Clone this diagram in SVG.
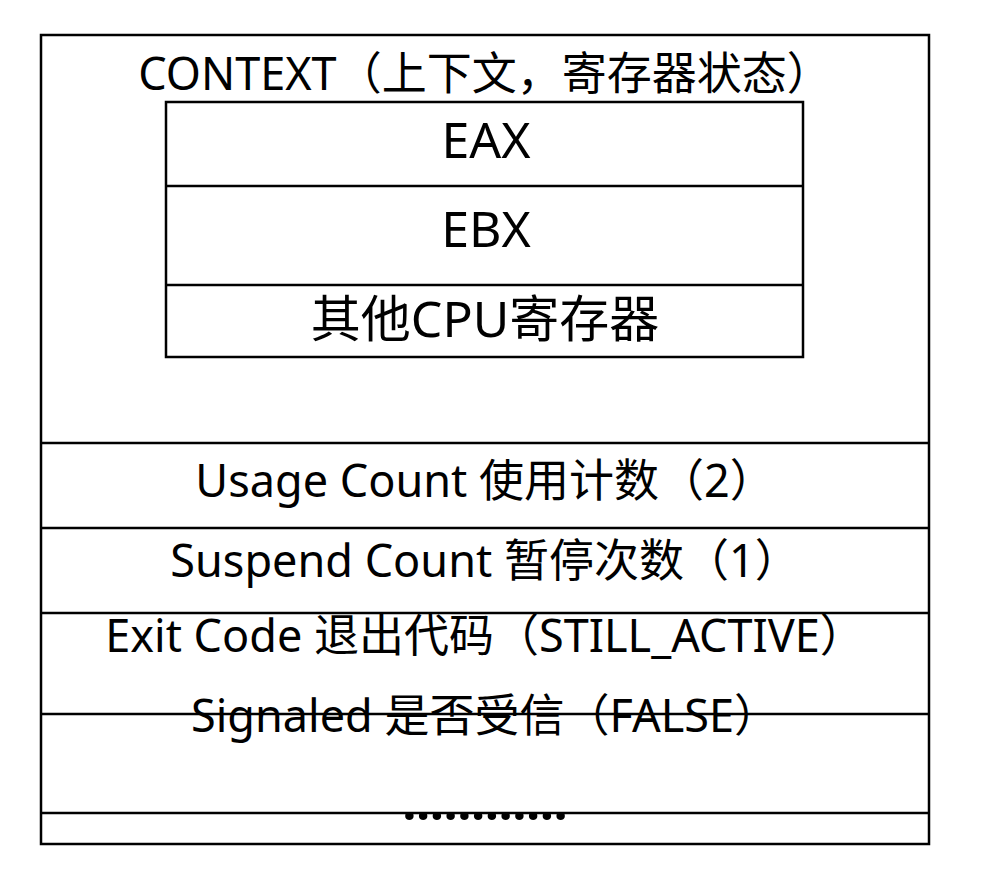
<svg xmlns="http://www.w3.org/2000/svg" width="985" height="880" viewBox="0 0 985 880">
<style>
.box{fill:none;stroke:#000;stroke-width:2.5}
.ln{stroke:#000;stroke-width:2.5}
text{font-family:"Noto Sans","Noto Sans CJK SC",sans-serif;font-size:45px;fill:#000;text-anchor:middle}
.big{font-size:50px}
</style>
<rect x="0" y="0" width="985" height="880" fill="#fff"/>
<g id="thread-kernel-object">
<rect class="box" x="41" y="35" width="888" height="809"/>
</g>
<g id="context">
<text x="485" y="90">CONTEXT（上下文，寄存器状态）</text>
<rect class="box" x="166" y="102" width="637" height="255"/>
</g>
<g id="eax"><text class="big" x="486" y="158">EAX</text></g>
<g id="ebx"><text class="big" x="486" y="247">EBX</text></g>
<g id="other-cpu"><text class="big" x="485" y="337">其他CPU寄存器</text></g>
<g id="usage-count"><text x="485" y="497">Usage Count 使用计数（2）</text></g>
<g id="suspend-count"><text x="485" y="577">Suspend Count 暂停次数（1）</text></g>
<g id="exit-code"><text x="485" y="652">Exit Code 退出代码（STILL_ACTIVE）</text></g>
<g id="signaled"><text x="485" y="732">Signaled 是否受信（FALSE）</text></g>
<g id="more"><text x="485" y="820" style="font-size:49px;font-weight:bold">............</text></g>
<g id="connectors">
<line class="ln" x1="166" y1="186" x2="803" y2="186"/>
<line class="ln" x1="166" y1="285" x2="803" y2="285"/>
<line class="ln" x1="41" y1="443" x2="929" y2="443"/>
<line class="ln" x1="41" y1="528" x2="929" y2="528"/>
<line class="ln" x1="41" y1="613" x2="929" y2="613"/>
<line class="ln" x1="41" y1="714" x2="929" y2="714"/>
<line class="ln" x1="41" y1="813" x2="929" y2="813"/>
</g>
</svg>
